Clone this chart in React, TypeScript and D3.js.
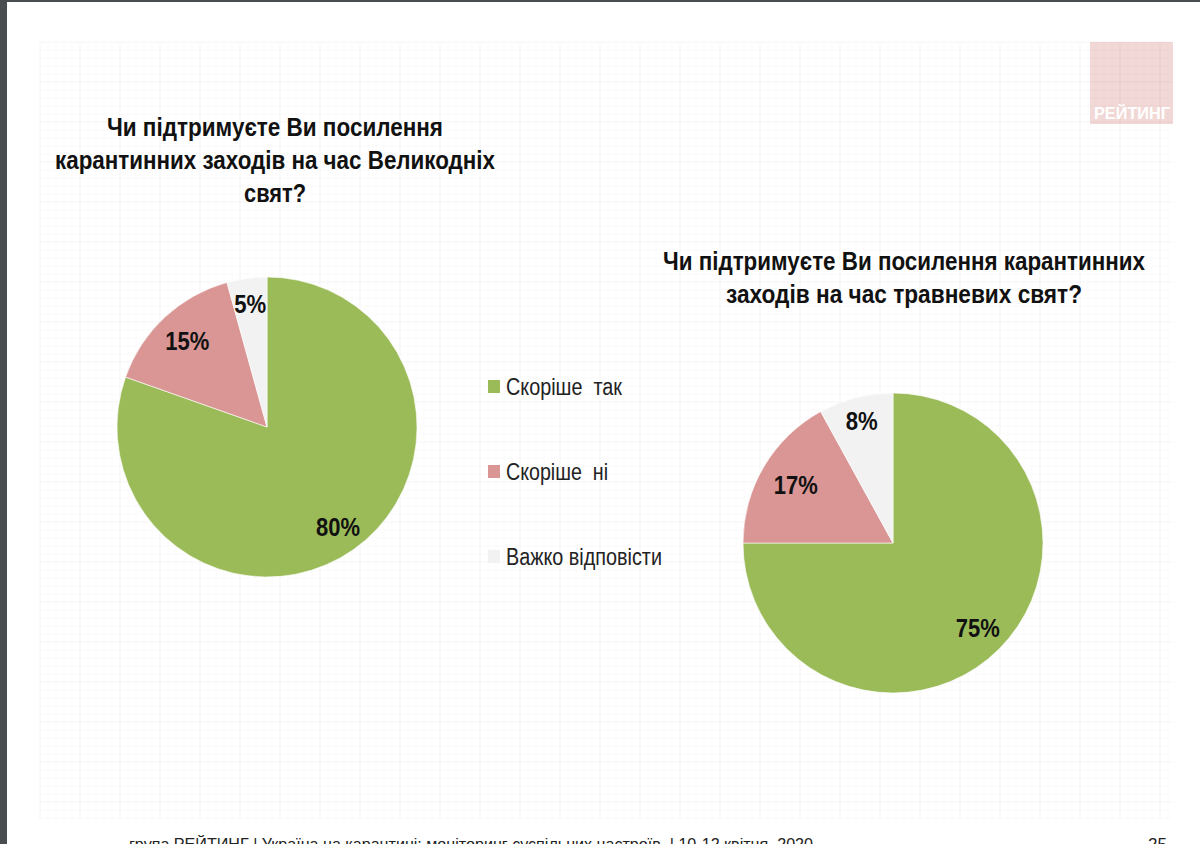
import * as d3 from "d3";

const categories = ["Скоріше  так", "Скоріше  ні", "Важко відповісти"];
const colors = ["#9bbb59", "#d99694", "#f2f2f2"];
// slice shares, the printed labels are rounded by the source
const easterValues = [80.4, 15.3, 4.3];
const easterLabels = ["80%", "15%", "5%"];
const mayValues = [75, 17, 8];
const mayLabels = ["75%", "17%", "8%"];
const easterTitle = [
  "Чи підтримуєте Ви посилення",
  "карантинних заходів на час Великодніх",
  "свят?",
];
const mayTitle = [
  "Чи підтримуєте Ви посилення карантинних",
  "заходів на час травневих свят?",
];
const footer = "група РЕЙТИНГ | Україна на карантині: моніторинг суспільних настроїв  | 10-12 квітня  2020";
const pageNumber = "25";

const width = 1200;
const height = 844;
const font = "'Liberation Sans', Arial, sans-serif";

const grid = { x0: 40, x1: 1172, y0: 42, y1: 820 };
const radius = 150;

const pie = d3.pie<number>().sort(null).value((d) => d);
const arc = d3.arc<d3.PieArcDatum<number>>().innerRadius(0).outerRadius(radius);

function Pie({
  cx,
  cy,
  values,
  labels,
  labelRadii,
}: {
  cx: number;
  cy: number;
  values: number[];
  labels: string[];
  labelRadii: number[];
}) {
  const slices = pie(values);
  return (
    <g transform={`translate(${cx},${cy})`}>
      {slices.map((s, i) => (
        <path key={i} d={arc(s) || ""} fill={colors[i]} stroke="#fff" strokeWidth={0.6} />
      ))}
      {slices.map((s, i) => {
        const r = labelRadii[i];
        const [x, y] = d3.arc<d3.PieArcDatum<number>>().innerRadius(r).outerRadius(r).centroid(s);
        return (
          <text
            key={i}
            x={x}
            y={y}
            dy="0.36em"
            textAnchor="middle"
            fontFamily={font}
            fontWeight="bold"
            fontSize={25}
            fill="#111"
            textLength={labels[i].length === 2 ? 32 : 44}
            lengthAdjust="spacingAndGlyphs"
          >
            {labels[i]}
          </text>
        );
      })}
    </g>
  );
}

function Title({ x, y, lines, widths }: { x: number; y: number; lines: string[]; widths: number[] }) {
  return (
    <g>
      {lines.map((line, i) => (
        <text
          key={i}
          x={x}
          y={y + i * 33}
          textAnchor="middle"
          fontFamily={font}
          fontWeight="bold"
          fontSize={25}
          fill="#111"
          textLength={widths[i]}
          lengthAdjust="spacingAndGlyphs"
        >
          {line}
        </text>
      ))}
    </g>
  );
}

export default function App() {
  // faint squared-paper backdrop
  const minorX = d3.range(grid.x0, grid.x1 + 1, 8);
  const minorY = d3.range(grid.y0, grid.y1 + 1, 8);
  const majorX = d3.range(grid.x0, grid.x1 + 1, 40);
  const majorY = d3.range(grid.y0, grid.y1 + 1, 40);
  const legendY = d3.scalePoint<string>().domain(categories).range([387, 557]);
  const legendWidths = [116, 102, 156];

  return (
    <svg
      width={width}
      height={height}
      viewBox={`0 0 ${width} ${height}`}
      style={{ position: "absolute", left: 0, top: 0, display: "block" }}
    >
      <rect width={width} height={height} fill="#fff" />
      <rect width={width} height={2} fill="#4a4d50" />
      <rect width={7} height={height} fill="#4a4d50" />

      <rect x={1090} y={42} width={83} height={82} fill="#f2d9d7" />

      <g stroke="#000" strokeOpacity={0.015} strokeWidth={1}>
        {minorX.map((x) => (
          <line key={x} x1={x} x2={x} y1={grid.y0} y2={grid.y1} />
        ))}
        {minorY.map((y) => (
          <line key={y} x1={grid.x0} x2={grid.x1} y1={y} y2={y} />
        ))}
      </g>
      <g stroke="#000" strokeOpacity={0.025} strokeWidth={1}>
        {majorX.map((x) => (
          <line key={x} x1={x} x2={x} y1={grid.y0} y2={grid.y1} />
        ))}
        {majorY.map((y) => (
          <line key={y} x1={grid.x0} x2={grid.x1} y1={y} y2={y} />
        ))}
      </g>

      <text
        x={1132}
        y={119}
        textAnchor="middle"
        fontFamily={font}
        fontWeight="bold"
        fontSize={16}
        fill="#fff"
        textLength={76}
        lengthAdjust="spacingAndGlyphs"
      >
        РЕЙТИНГ
      </text>

      <Title x={275} y={136} lines={easterTitle} widths={[336, 440, 62]} />
      <Title x={904} y={270} lines={mayTitle} widths={[482, 356]} />

      <Pie cx={267} cy={427} values={easterValues} labels={easterLabels} labelRadii={[123, 117, 124]} />
      <Pie cx={893} cy={543} values={mayValues} labels={mayLabels} labelRadii={[120, 113, 126]} />

      {categories.map((c, i) => (
        <g key={c} transform={`translate(488,${legendY(c)})`}>
          <rect x={0} y={-7} width={12} height={13} fill={colors[i]} />
          <text
            x={18}
            dy="0.36em"
            fontFamily={font}
            fontSize={23}
            fill="#222"
            textLength={legendWidths[i]}
            lengthAdjust="spacingAndGlyphs"
            style={{ whiteSpace: "pre" }}
          >
            {c}
          </text>
        </g>
      ))}

      <text
        x={129}
        y={850}
        fontFamily={font}
        fontSize={17}
        fill="#222"
        textLength={684}
        lengthAdjust="spacingAndGlyphs"
        style={{ whiteSpace: "pre" }}
      >
        {footer}
      </text>
      <text x={1148} y={850} fontFamily={font} fontSize={17} fill="#222">
        {pageNumber}
      </text>
    </svg>
  );
}
